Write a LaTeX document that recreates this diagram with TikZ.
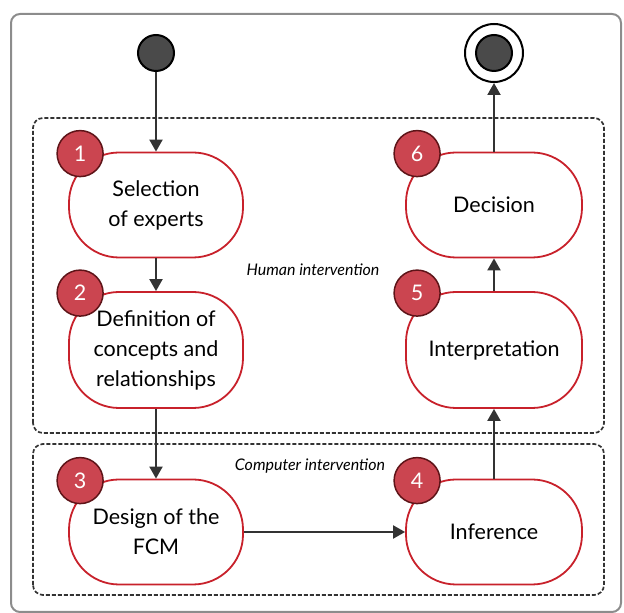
\documentclass[tikz,border=0pt]{standalone}
\usepackage{fontspec}
\setmainfont{Lato}
\usetikzlibrary{arrows.meta,positioning}
\definecolor{stepred}{HTML}{C8212B}
\definecolor{badgered}{HTML}{CB4550}
\definecolor{badgeedge}{HTML}{5E1418}
\definecolor{darkline}{HTML}{333333}
\definecolor{dotfill}{HTML}{4A4A4A}
\begin{document}
\begin{tikzpicture}[x=1pt,y=1pt,>={Triangle[width=13pt,length=12pt]}]
        \tikzstyle{every node}=[font=\fontsize{21.5}{30}\selectfont]
        \tikzstyle{stage}=[draw=stepred, line width=1.8pt, fill=white, rounded corners=50pt, minimum width=174pt, minimum height=105pt, align=center, inner sep=2pt]
        \tikzstyle{badge}=[circle, draw=badgeedge, line width=1.5pt, fill=badgered, text=white, minimum size=46pt, inner sep=0pt]
        \tikzstyle{flow}=[->, draw=darkline, line width=2pt]
        \tikzstyle{zone}=[draw=darkline, line width=1.7pt, dash pattern=on 4pt off 2pt, rounded corners=10pt]
        \tikzstyle{dot}=[circle, draw=black, line width=2pt, fill=dotfill, minimum size=36pt, inner sep=0pt]
        \tikzstyle{zonelabel}=[font=\fontsize{16}{18}\selectfont\itshape]
        \useasboundingbox (0,0) rectangle (624,613);
        \draw[gray!90, line width=2pt, rounded corners=9pt] (11,1) rectangle (621,599);
        % the two zones
        \draw[zone] (33,180) rectangle (604,495);
        \draw[zone] (33,18) rectangle (604,169);
        \node[zonelabel] (humanlabel) at (313,343) {Human intervention};
        \node[zonelabel] (computerlabel) at (310,147) {Computer intervention};
        % start and end
        \node[dot] (start) at (156,560) {};
        \node[dot] (finish) at (494,560) {};
        \node[circle, draw=black, line width=2pt, minimum size=58pt] (finishring) at (finish) {};
        % stages
        \node[stage] (select) at (156,408) {Selection\\of experts};
        \node[stage, minimum height=116pt] (define) at (156,263) {Definition of\\concepts and\\relationships};
        \node[stage] (design) at (156,81) {Design of the\\FCM};
        \node[stage, minimum width=176pt] (infer) at (494,81) {Inference};
        \node[stage, minimum width=176pt, minimum height=116pt] (interpret) at (494,263) {Interpretation};
        \node[stage, minimum width=176pt] (decide) at (494,408) {Decision};
        % numbers
        \node[badge] (b1) at ([shift={(12,-2)}]select.north west) {1};
        \node[badge] (b2) at ([shift={(12,-2)}]define.north west) {2};
        \node[badge] (b3) at ([shift={(12,-2)}]design.north west) {3};
        \node[badge] (b4) at ([shift={(12,-2)}]infer.north west) {4};
        \node[badge] (b5) at ([shift={(12,-2)}]interpret.north west) {5};
        \node[badge] (b6) at ([shift={(12,-2)}]decide.north west) {6};
        % flow
        \draw[flow] (start) -- (select);
        \draw[flow] (select) -- (define);
        \draw[flow] (define) -- (design);
        \draw[flow] (design) -- (infer);
        \draw[flow] (infer) -- (interpret);
        \draw[flow] (interpret) -- (decide);
        \draw[flow] (decide) -- (finishring);
\end{tikzpicture}
\end{document}
